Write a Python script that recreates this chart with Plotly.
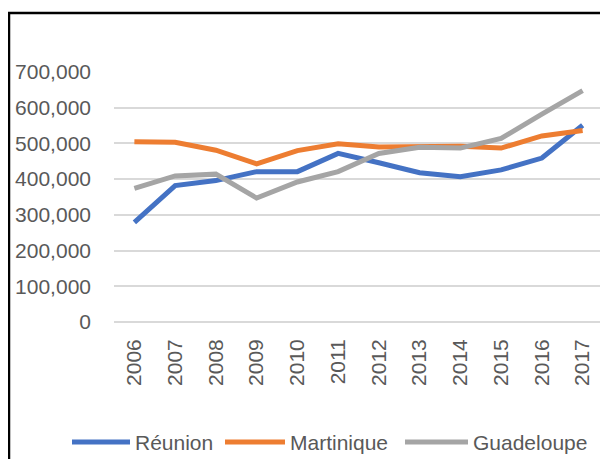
import plotly.graph_objects as go

years = ["2006", "2007", "2008", "2009", "2010", "2011",
         "2012", "2013", "2014", "2015", "2016", "2017"]
reunion = [279000, 382000, 396000, 421000, 421000, 472000,
           446000, 418000, 407000, 426000, 459000, 551000]
martinique = [505000, 503000, 481000, 443000, 480000, 499000,
              490000, 492000, 492000, 487000, 521000, 536000]
guadeloupe = [374000, 409000, 414000, 347000, 392000, 421000,
              472000, 489000, 487000, 514000, 582000, 648000]
yticks = [0, 100000, 200000, 300000, 400000, 500000, 600000, 700000]

series = [("Réunion", reunion, "#4472C4"),
          ("Martinique", martinique, "#ED7D31"),
          ("Guadeloupe", guadeloupe, "#A5A5A5")]

# page body adds an 8px offset, so the figure is laid out 8px smaller
W, H = 600, 451
L, R, T, B = 106, 5, 64, 137
pw, ph = W - L - R, H - T - B

def px(x):  # figure pixel -> paper x
    return (x - L) / pw

def py(y):  # figure pixel -> paper y
    return (H - B - y) / ph

fig = go.Figure()
for name, vals, color in series:
    fig.add_trace(go.Scatter(x=years, y=vals, mode="lines", name=name,
                             line=dict(color=color, width=5)))

txt = dict(family="Liberation Sans", size=21, color="#595959")

# hand-drawn legend (longer line samples like the original)
shapes, annos = [], []
leg_y = 434
for (name, _, color), (x0, x1) in zip(series, [(64, 122), (217, 277), (397, 460)]):
    shapes.append(dict(type="line", xref="paper", yref="paper",
                       x0=px(x0), x1=px(x1), y0=py(leg_y), y1=py(leg_y),
                       line=dict(color=color, width=5)))
    annos.append(dict(text=name, xref="paper", yref="paper",
                      x=px(x1 + 3), y=py(leg_y), xanchor="left", yanchor="middle",
                      showarrow=False, font=txt))

shapes.append(dict(type="rect", xref="paper", yref="paper",
                   x0=px(1), x1=px(W + 20), y0=py(H + 20), y1=py(5),
                   line=dict(color="black", width=2.5), layer="above"))

fig.update_layout(
    width=W, height=H,
    margin=dict(l=L, r=R, t=T, b=B),
    paper_bgcolor="white", plot_bgcolor="white",
    font=txt, showlegend=False,
    xaxis=dict(type="category", range=[-0.5, 11.5], showgrid=False,
               showline=False, zeroline=False, tickangle=-90,
               ticklabelstandoff=12, tickfont=txt),
    yaxis=dict(range=[0, 700000], tickvals=yticks, tickformat=",d",
               showgrid=True, gridcolor="#D9D9D9", gridwidth=1.5,
               zeroline=True, zerolinecolor="#D9D9D9", zerolinewidth=1.5,
               showline=False, ticklabelstandoff=22, tickfont=txt),
    shapes=shapes, annotations=annos,
)
fig.write_html("out.html")
